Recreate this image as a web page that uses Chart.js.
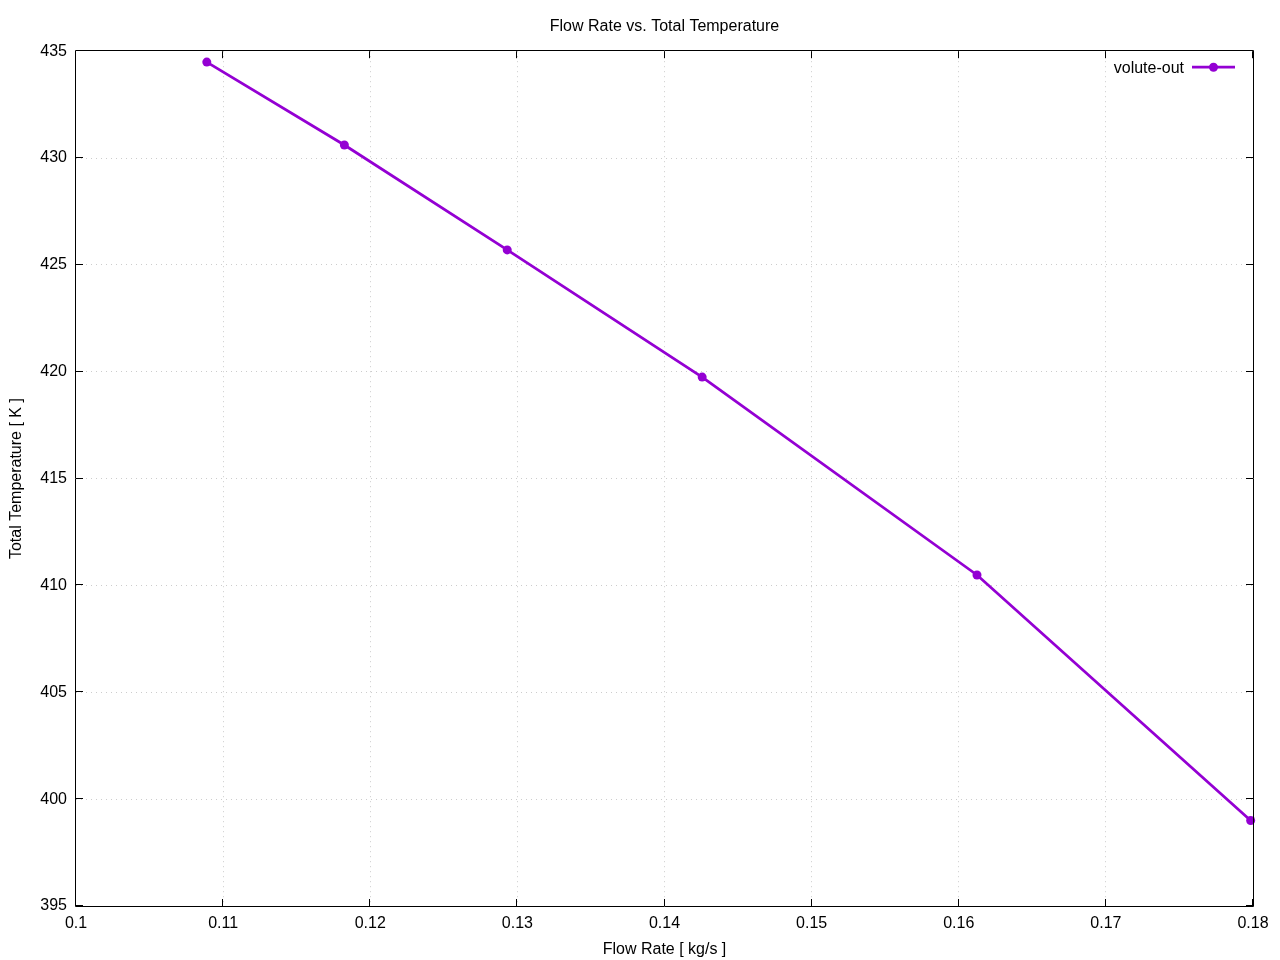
<!DOCTYPE html>
<html>
<head>
<meta charset="utf-8">
<title>Flow Rate vs. Total Temperature</title>
<script src="https://cdn.jsdelivr.net/npm/chart.js@4"></script>
<style>
  html, body { margin: 0; padding: 0; background: #fff; }
  canvas { display: block; }
</style>
</head>
<body>
<canvas id="chart" width="1280" height="960"></canvas>
<script>
// --- data ---
const flowRate = [0.10889, 0.11824, 0.12931, 0.14256, 0.16124, 0.17984];
const totalTemp = [434.49, 430.61, 425.70, 419.75, 410.49, 399.00];
const seriesLabel = 'volute-out';

const xRange = [0.1, 0.18];
const xStep = 0.01;
const yRange = [395, 435];
const yStep = 5;

const lineColor = '#9400D3';
const FONT = 'Liberation Sans, Arial, sans-serif';

// gnuplot-like frame, inward ticks on all four sides, legend inside plot
const framePlugin = {
  id: 'frame',
  afterDatasetsDraw(chart) {
    const { ctx, chartArea: a, scales: { x, y } } = chart;
    const tl = 7;
    ctx.save();
    ctx.strokeStyle = '#000';
    ctx.lineWidth = 1;
    ctx.beginPath();
    ctx.rect(Math.round(a.left) - 0.5, Math.round(a.top) - 0.5,
             Math.round(a.right) - Math.round(a.left) + 1,
             Math.round(a.bottom) - Math.round(a.top) + 1);
    ctx.stroke();
    ctx.beginPath();
    x.ticks.forEach(t => {
      const px = Math.round(x.getPixelForValue(t.value)) - 0.5;
      ctx.moveTo(px, a.bottom); ctx.lineTo(px, a.bottom - tl);
      ctx.moveTo(px, a.top); ctx.lineTo(px, a.top + tl);
    });
    y.ticks.forEach(t => {
      const py = Math.round(y.getPixelForValue(t.value)) - 0.5;
      ctx.moveTo(a.left, py); ctx.lineTo(a.left + tl, py);
      ctx.moveTo(a.right, py); ctx.lineTo(a.right - tl, py);
    });
    ctx.stroke();

    // legend
    const ds = chart.data.datasets[0];
    const ly = a.top + 16;
    const sx1 = a.right - 61, sx2 = a.right - 18;
    ctx.font = '16px ' + FONT;
    ctx.fillStyle = '#000';
    ctx.textAlign = 'right';
    ctx.textBaseline = 'middle';
    ctx.fillText(ds.label, sx1 - 8, ly + 1);
    ctx.strokeStyle = ds.borderColor;
    ctx.lineWidth = ds.borderWidth;
    ctx.beginPath();
    ctx.moveTo(sx1, ly); ctx.lineTo(sx2, ly);
    ctx.stroke();
    ctx.fillStyle = ds.pointBackgroundColor;
    ctx.beginPath();
    ctx.arc((sx1 + sx2) / 2, ly, ds.pointRadius, 0, Math.PI * 2);
    ctx.fill();
    ctx.restore();
  }
};

const gridColor = (c) => {
  const v = c.tick ? c.tick.value : null;
  const s = c.scale;
  if (v === null || Math.abs(v - s.min) < 1e-9 || Math.abs(v - s.max) < 1e-9) return 'rgba(0,0,0,0)';
  return '#cccccc';
};

new Chart(document.getElementById('chart'), {
  type: 'scatter',
  data: {
    datasets: [{
      label: seriesLabel,
      data: flowRate.map((v, i) => ({ x: v, y: totalTemp[i] })),
      showLine: true,
      borderColor: lineColor,
      backgroundColor: lineColor,
      pointBackgroundColor: lineColor,
      pointBorderWidth: 0,
      borderWidth: 2.8,
      pointRadius: 4.5,
      pointHoverRadius: 4.5,
      tension: 0,
      clip: false
    }]
  },
  options: {
    responsive: false,
    animation: false,
    devicePixelRatio: 1,
    layout: { padding: { left: 0, right: 27, top: 0, bottom: 0 } },
    plugins: {
      legend: { display: false },
      tooltip: { enabled: false },
      title: {
        display: true,
        fullSize: false,
        text: 'Flow Rate vs. Total Temperature',
        color: '#000',
        font: { family: FONT, size: 16, weight: 'normal' },
        padding: { top: 17, bottom: 15 }
      }
    },
    scales: {
      x: {
        type: 'linear',
        min: xRange[0],
        max: xRange[1],
        afterFit(scale) { scale.height = 54; },
        ticks: {
          stepSize: xStep,
          color: '#000',
          padding: 8,
          maxRotation: 0,
          font: { family: FONT, size: 16 },
          callback: v => String(Number(v.toFixed(2)))
        },
        grid: { color: gridColor, lineWidth: 1, drawTicks: false },
        border: { display: false, dash: [1, 4] },
        title: {
          display: true,
          text: 'Flow Rate [ kg/s ]',
          color: '#000',
          font: { family: FONT, size: 16 },
          padding: { top: 0, bottom: 1 }
        }
      },
      y: {
        type: 'linear',
        min: yRange[0],
        max: yRange[1],
        afterFit(scale) { scale.width = 76; },
        ticks: {
          stepSize: yStep,
          color: '#000',
          padding: 9,
          font: { family: FONT, size: 16 }
        },
        grid: { color: gridColor, lineWidth: 1, drawTicks: false },
        border: { display: false, dash: [1, 4] },
        title: {
          display: true,
          text: 'Total Temperature [ K ]',
          color: '#000',
          font: { family: FONT, size: 16 },
          padding: { top: 7, bottom: 0 }
        }
      }
    }
  },
  plugins: [framePlugin]
});
</script>
</body>
</html>
